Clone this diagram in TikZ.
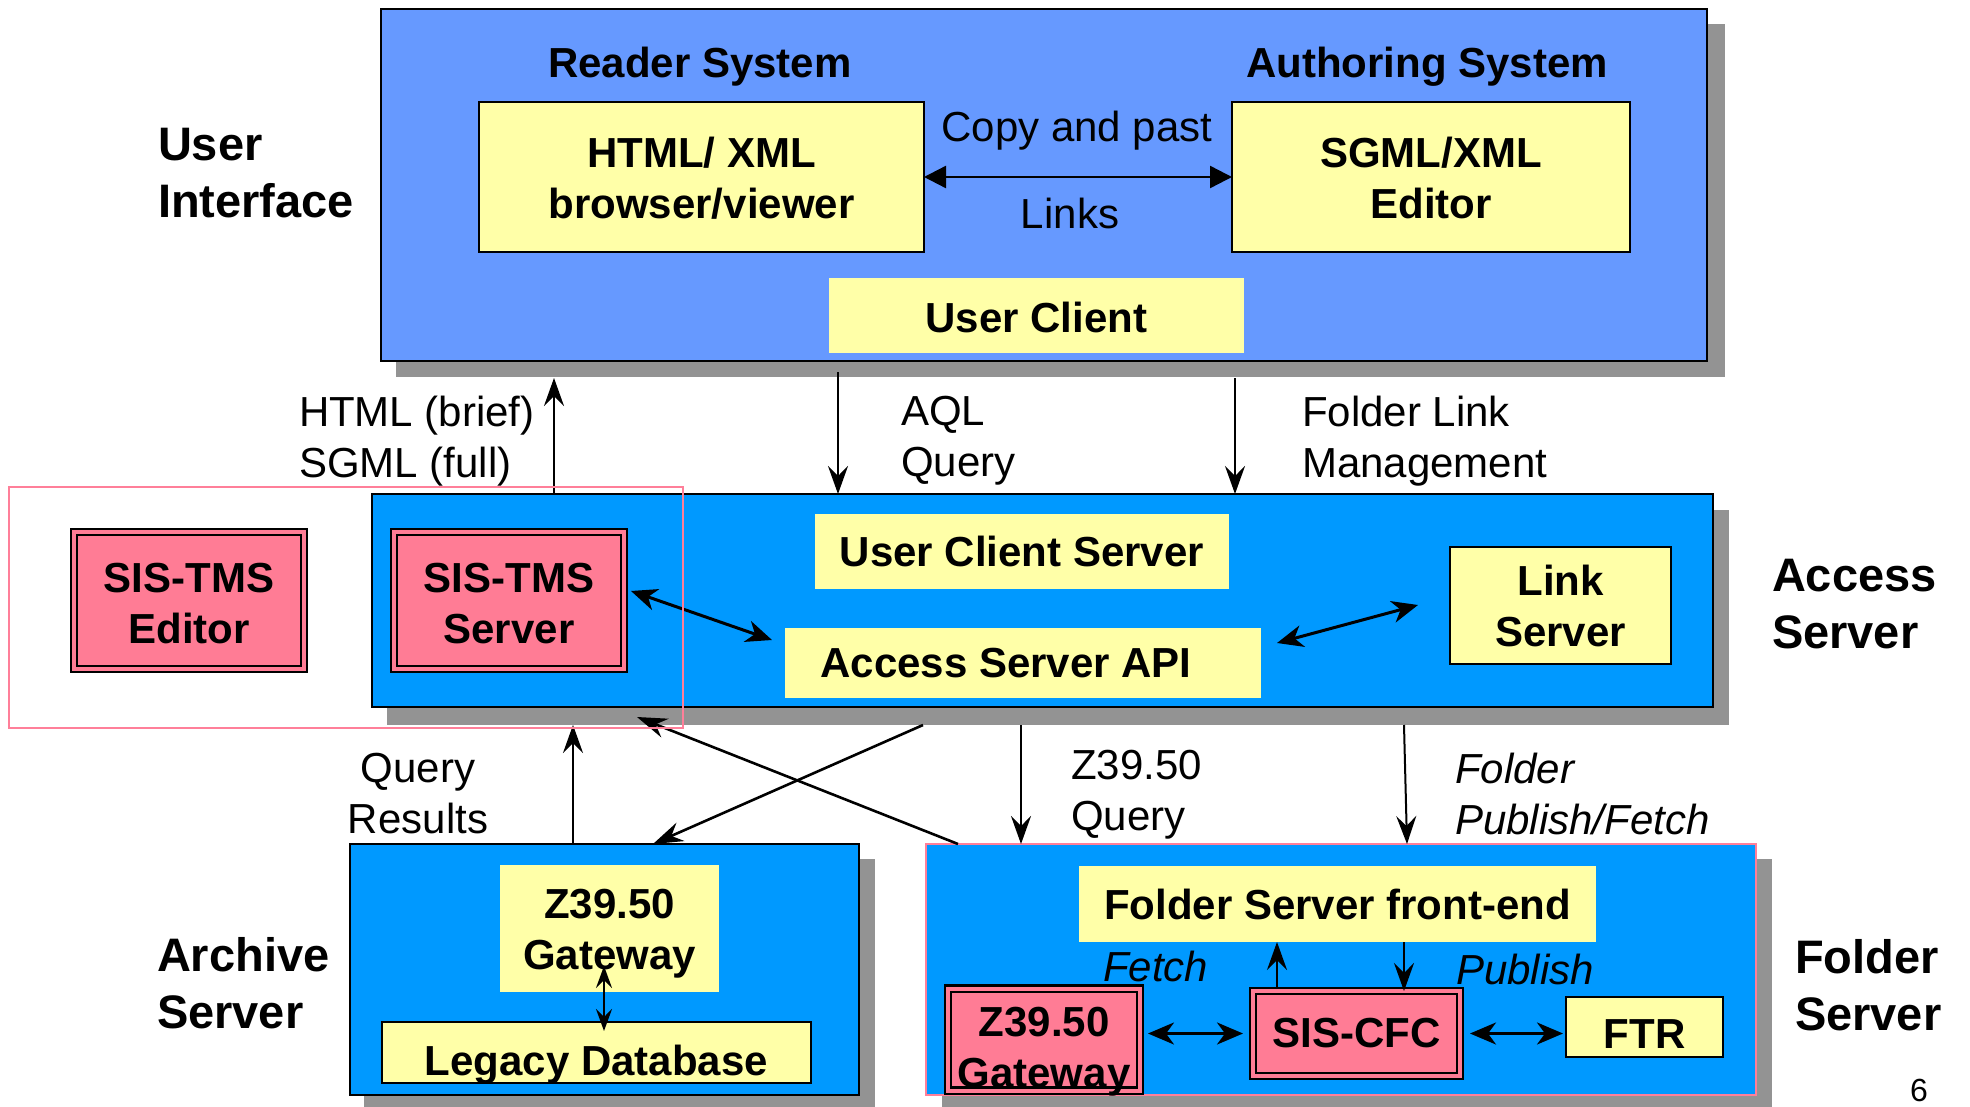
\documentclass[tikz,border=0pt]{standalone}
\usepackage{fontspec}
\setmainfont{Liberation Sans}
\usetikzlibrary{arrows.meta,fit,calc}
\definecolor{topblue}{RGB}{102,153,255}
\definecolor{midblue}{RGB}{0,153,255}
\definecolor{boxyellow}{RGB}{255,255,168}
\definecolor{boxpink}{RGB}{255,124,149}
\definecolor{shadowgray}{RGB}{147,147,147}
\definecolor{linepink}{RGB}{255,127,153}
\newcommand{\lowtext}[2]{\raisebox{-#1}[\height][\depth]{\begin{tabular}{@{}c@{}}#2\end{tabular}}}
\begin{document}
\begin{tikzpicture}[x=0.5pt,y=-0.5pt,
  every node/.style={inner sep=0pt, outer sep=0pt},
  txt/.style={font=\fontsize{21}{25.5}\selectfont},
  btxt/.style={font=\fontsize{21}{25.5}\selectfont\bfseries},
  itxt/.style={font=\fontsize{21}{25.5}\selectfont\itshape},
  side/.style={font=\fontsize{23.5}{28.5}\selectfont\bfseries, align=left, anchor=west},
  panel/.style={fill=midblue, draw=black, line width=1.2pt},
  shade/.style={fill=shadowgray},
  bx/.style 2 args={minimum width=#1pt, minimum height=#2pt},
  ybox/.style={fill=boxyellow, btxt, align=center},
  ybord/.style={ybox, draw=black, line width=1.2pt},
  pbox/.style={fill=boxpink, draw=black, double=boxpink, double distance=2pt, line width=1.1pt, btxt, align=center},
  varrow/.style={line width=1pt, -{Stealth[length=14pt,width=10pt,inset=5pt]}},
  xarrow/.style={line width=1.3pt, -{Stealth[length=15pt,width=10pt,inset=5pt]}},
  linkarrow/.style={line width=1.2pt, {Triangle[length=11pt,width=11pt]}-{Triangle[length=11pt,width=11pt]}},
  darrow/.style={line width=1.5pt, {Stealth[length=13pt,width=11pt,inset=4pt]}-{Stealth[length=13pt,width=11pt,inset=4pt]}},
  garrow/.style={line width=1pt, {Stealth[length=11pt,width=8pt,inset=4pt]}-{Stealth[length=11pt,width=8pt,inset=4pt]}},
]
\useasboundingbox (0,0) rectangle (1970,1107);
\fill[white] (0,0) rectangle (1970,1107);

% shadows
\fill[shade] (396,24) rectangle (1725,377);
\fill[shade] (387,510) rectangle (1729,725);
\fill[shade] (364,859) rectangle (875,1107);
\fill[shade] (942,859) rectangle (1772,1107);

% ---- User interface panel
\node[fit={(381,9) (1707,361)}, fill=topblue, draw=black, line width=1.2pt] (ui) {};
\node[btxt] (rs) at (700,67) {Reader System};
\node[btxt] (as) at (1427,67) {Authoring System};
\node[ybord, bx={222.5}{75}] (html) at (701.5,177) {\lowtext{3pt}{HTML/ XML\\browser/viewer}};
\node[ybord, bx={199}{75}] (sgml) at (1431,177) {\lowtext{3pt}{SGML/XML\\Editor}};
\node[ybox, bx={207.5}{37.5}] (uc) at (1036.5,315.5) {\lowtext{3.5pt}{User Client}};
\node[txt] (cp) at (1077,131) {Copy and past};
\node[txt] (lk) at (1070,213) {Links};
\draw[linkarrow] (html.east) -- (sgml.west);
\node[side] (uil) at (158,173) {User\\Interface};

% ---- Access server panel
\node[panel, fit={(372,494) (1713,707)}] (acc) {};
\node[pbox, bx={115}{68.5}] (tmse) at (189,600.5) {\lowtext{3.5pt}{SIS-TMS\\Editor}};
\node[pbox, bx={115}{68.5}] (tmss) at (509,600.5) {\lowtext{3.5pt}{SIS-TMS\\Server}};
\node[ybox, bx={207}{37.5}] (ucs) at (1022,551.5) {User Client Server};
\node[ybox, bx={238}{35}] (api) at (1023,663) {\hspace*{-17pt}Access Server API};
\node[ybord, bx={110.5}{58.5}] (link) at (1560.5,605.5) {Link\\Server};
\node[side] (accl) at (1772,604) {Access\\Server};
\coordinate (t1) at (631,591);
\coordinate (t2) at (772,640);
\draw[darrow] (t1) -- (t2);
\coordinate (l1) at (1277,643);
\coordinate (l2) at (1418,605);
\draw[darrow] (l1) -- (l2);

% ---- connectors top <-> access
\coordinate (hb) at (554,378);
\draw[varrow] (hb |- acc.north) -- (hb);
\coordinate (aq) at (838,372);
\draw[varrow] (aq) -- (aq |- acc.north);
\coordinate (fl) at (1235,378);
\draw[varrow] (fl) -- (fl |- acc.north);
\node[txt, align=left, anchor=west] (hsl) at (299,441) {HTML (brief)\\SGML (full)};
\node[txt, align=left, anchor=west] (aql) at (901,441) {AQL\\Query};
\node[txt, align=left, anchor=west] (fll) at (1302,441) {Folder Link\\Management};

% ---- Archive server panel
\node[panel, fit={(350,844) (859,1095)}] (arch) {};
\node[ybox, bx={109.5}{63.5}] (gw) at (609.5,928.5) {\lowtext{2.8pt}{Z39.50\\Gateway}};
\node[ybord, bx={214.5}{30.5}] (leg) at (596.5,1052.5) {\lowtext{6.5pt}{Legacy Database}};
\coordinate (g1) at (604,966);
\coordinate (g2) at (604,1031);
\draw[garrow] (g1) -- (g2);
\node[side] (arl) at (157,983) {Archive\\Server};

% ---- Folder server panel
\node[panel, draw=linepink, fit={(926,844) (1756,1095)}] (fold) {};
\node[ybox, bx={258.5}{38}] (fe) at (1337.5,904) {Folder Server front-end};
\node[pbox, bx={96}{49.5}] (zg) at (1044,1039.5) {\lowtext{6.3pt}{Z39.50\\Gateway}};
\node[pbox, bx={103.5}{42.5}] (cfc) at (1356.5,1033.5) {SIS-CFC};
\node[ybord, bx={78.5}{30}] (ftr) at (1644.5,1027) {\lowtext{5.8pt}{FTR}};
\node[itxt, anchor=west] (fetch) at (1103,966) {Fetch};
\node[itxt, anchor=west] (pub) at (1456,969) {Publish};
\coordinate (f1) at (1277,989);
\draw[varrow] (f1) -- (f1 |- fe.south);
\coordinate (p1) at (1404,942);
\draw[varrow] (p1) -- (p1 |- cfc.north);
\draw[darrow, shorten <=4pt, shorten >=5pt] (zg.east |- cfc.west) -- (cfc.west);
\draw[darrow, shorten <=5pt, shorten >=1.5pt] (cfc.east) -- (ftr.west |- cfc.east);
\node[side] (fsl) at (1795,985) {Folder\\Server};

% ---- connectors access <-> lower panels
\coordinate (qr) at (573,725);
\draw[varrow] (qr |- arch.north) -- (qr);
\node[txt, align=center] (qrl) at (418,794) {Query\\Results};
\coordinate (c1) at (923,725);
\coordinate (c2) at (653,844);
\draw[xarrow] (c1) -- (c2);
\coordinate (c3) at (958,844);
\coordinate (c4) at (637,717);
\draw[xarrow] (c3) -- (c4);
\coordinate (zq) at (1021,725);
\draw[varrow] (zq) -- (zq |- fold.north);
\node[txt, align=left, anchor=west] (zql) at (1071,795) {Z39.50\\Query};
\coordinate (fp1) at (1404,725);
\coordinate (fp2) at (1407,844);
\draw[varrow] (fp1) -- (fp2);
\node[itxt, align=left, anchor=west] (fpl) at (1455,794) {Folder\\Publish/Fetch};

% highlight rectangle
\node[fit={(9,487) (683,728)}, draw=linepink, line width=1pt] (hl) {};

\node[font=\fontsize{16}{19}\selectfont] (pg) at (1919,1090) {6};
\end{tikzpicture}
\end{document}
